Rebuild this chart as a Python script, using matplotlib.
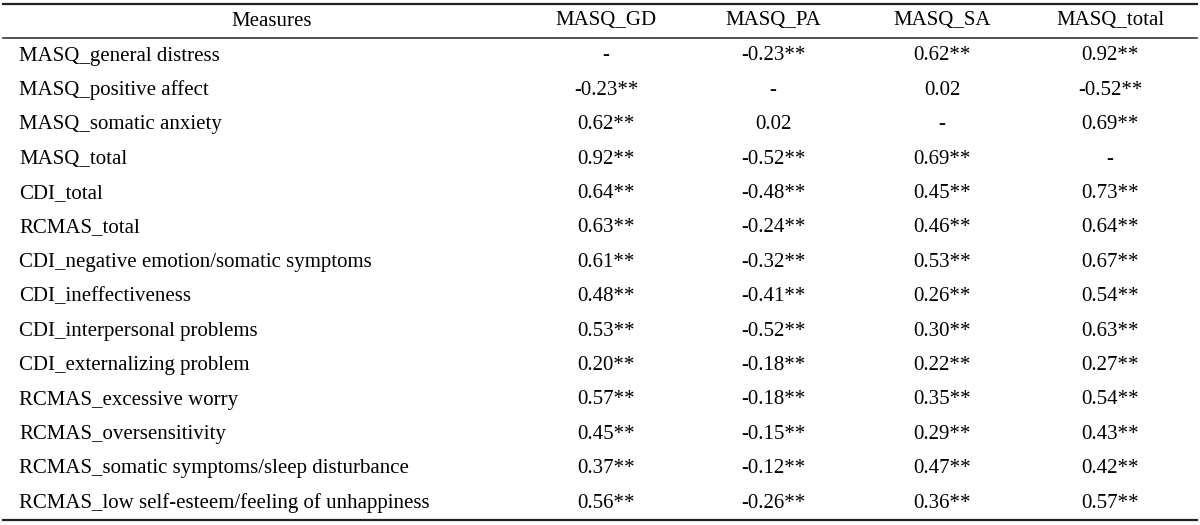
import matplotlib
matplotlib.use("Agg")
import matplotlib.pyplot as plt

measures = [
    "MASQ_general distress",
    "MASQ_positive affect",
    "MASQ_somatic anxiety",
    "MASQ_total",
    "CDI_total",
    "RCMAS_total",
    "CDI_negative emotion/somatic symptoms",
    "CDI_ineffectiveness",
    "CDI_interpersonal problems",
    "CDI_externalizing problem",
    "RCMAS_excessive worry",
    "RCMAS_oversensitivity",
    "RCMAS_somatic symptoms/sleep disturbance",
    "RCMAS_low self-esteem/feeling of unhappiness",
]
columns = ["MASQ_GD", "MASQ_PA", "MASQ_SA", "MASQ_total"]

masq_gd = ["-", "-0.23**", "0.62**", "0.92**", "0.64**", "0.63**", "0.61**",
           "0.48**", "0.53**", "0.20**", "0.57**", "0.45**", "0.37**", "0.56**"]
masq_pa = ["-0.23**", "-", "0.02", "-0.52**", "-0.48**", "-0.24**", "-0.32**",
           "-0.41**", "-0.52**", "-0.18**", "-0.18**", "-0.15**", "-0.12**", "-0.26**"]
masq_sa = ["0.62**", "0.02", "-", "0.69**", "0.45**", "0.46**", "0.53**",
           "0.26**", "0.30**", "0.22**", "0.35**", "0.29**", "0.47**", "0.36**"]
masq_total = ["0.92**", "-0.52**", "0.69**", "-", "0.73**", "0.64**", "0.67**",
              "0.54**", "0.63**", "0.27**", "0.54**", "0.43**", "0.42**", "0.57**"]
values = [masq_gd, masq_pa, masq_sa, masq_total]

plt.rcParams['font.family'] = ['Liberation Serif', 'DejaVu Serif']
fs = 15

fig = plt.figure(figsize=(12, 5.25), dpi=100)
ax = fig.add_axes([0, 0, 1, 1])
ax.set_xlim(0, 1200)
ax.set_ylim(525, 0)
ax.axis("off")

# rules
ax.plot([3, 1197], [4, 4], color="#222222", lw=1.6)
ax.plot([3, 1197], [38, 38], color="#222222", lw=1.1)
ax.plot([3, 1197], [520, 520], color="#222222", lw=1.6)

# header
col_x = [606, 773, 942, 1110]
ax.text(272, 21, "Measures", ha="center", va="center", fontsize=fs)
for x, c in zip(col_x, columns):
    ax.text(x, 21, c, ha="center", va="center", fontsize=fs)

# body
row_y0, row_h = 56, 34.4
for i, m in enumerate(measures):
    y = row_y0 + i * row_h
    ax.text(19, y, m, ha="left", va="center", fontsize=fs)
    for j, col in enumerate(values):
        ax.text(col_x[j], y, col[i], ha="center", va="center", fontsize=fs)

fig.savefig("out.png", dpi=100)
